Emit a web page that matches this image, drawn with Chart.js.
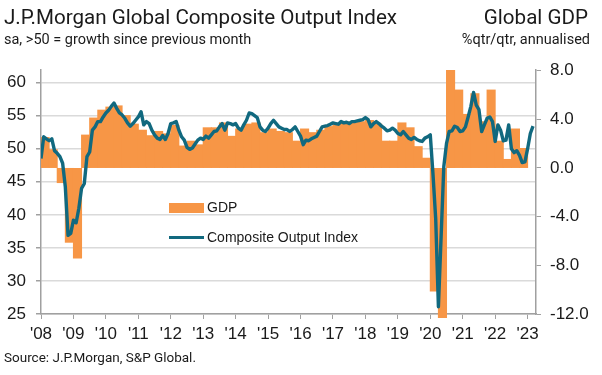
<!DOCTYPE html>
<html>
<head>
<meta charset="utf-8">
<script src="https://cdn.jsdelivr.net/npm/chart.js@4.4.1/dist/chart.umd.min.js"></script>
<style>
    html, body { margin: 0; padding: 0; background: #fff; }
    #wrap { width: 602px; height: 375px; }
</style>
</head>
<body>
<div id="wrap"><canvas id="chart" width="602" height="375"></canvas></div>
<script>
// Year tick labels (one per January, months counted from Jan 2008)
const yearLabels = ["'08", "'09", "'10", "'11", "'12", "'13", "'14", "'15", "'16", "'17", "'18", "'19", "'20", "'21", "'22", "'23"];
const pmiTicks = [25, 30, 35, 40, 45, 50, 55, 60];
const gdpTicks = [-12, -8, -4, 0, 4, 8];

// Global GDP, %q/q saar, Q1 2008 .. Q4 2022
const gdpQuarterly = [
    2.5, 1.5, -1.2, -6.1,
    -7.4, 2.7, 4.1, 4.75,
    5.0, 5.1, 4.3, 3.6,
    3.1, 2.65, 3.0, 2.8,
    3.5, 1.8, 2.2, 1.9,
    3.3, 3.3, 3.7, 2.6,
    3.2, 3.6, 3.7, 2.9,
    3.2, 3.0, 2.9, 2.2,
    3.2, 2.9, 3.1, 3.4,
    3.6, 3.8, 3.7, 3.8,
    3.9, 3.6, 2.2, 2.2,
    3.7, 3.3, 1.75, 0.8,
    -10.1, -12.3, 8.0, 6.4,
    4.4, 6.1, 3.8, 6.4,
    2.2, 0.7, 3.2, 1.6
];

// J.P.Morgan Global Composite Output Index, monthly Jan 2008 .. Mar 2023
const compositePmi = [
    48.5, 51.8, 51.5, 51.2, 51.5, 49.7, 49.3, 48.8, 47.8, 44.2, 36.9, 37.2,
    39.2, 38.8, 41.0, 44.0, 44.7, 48.8, 49.5, 52.8, 53.3, 54.1, 54.1, 54.8,
    55.4, 55.8, 56.4, 56.9, 56.1, 55.4, 55.1, 54.6, 53.9, 53.4, 53.8, 54.3,
    54.8, 55.6, 53.6, 54.1, 53.8, 52.8, 52.1, 51.6, 51.4, 52.0, 51.4, 52.3,
    53.8, 53.9, 54.1, 52.8, 51.8, 51.3, 50.2, 49.9, 50.1, 50.7, 51.3, 51.6,
    51.4, 51.9, 51.6, 52.1, 52.6, 52.7, 53.3, 53.8, 52.8, 53.9, 53.8, 53.6,
    53.8, 53.1, 52.8, 53.6, 54.3, 55.4, 55.3, 55.0, 54.7, 53.3, 52.8, 52.6,
    53.1, 53.8, 54.3, 53.8, 53.3, 53.1, 52.9, 52.9, 52.6, 52.9, 53.3, 52.6,
    51.9, 50.6, 51.3, 51.2, 51.5, 51.7, 51.9, 52.6, 53.3, 53.4, 53.5, 53.7,
    53.9, 53.8, 53.7, 54.1, 53.9, 54.0, 53.8, 54.1, 54.1, 54.2, 54.3, 54.4,
    54.7, 54.4, 53.3, 53.8, 54.1, 53.8, 53.4, 53.1, 52.7, 52.8, 53.1, 52.8,
    52.3, 52.1, 52.6, 52.1, 51.6, 51.4, 51.7, 51.4, 51.2, 51.1, 51.6, 51.8,
    52.1, 46.1, 39.4, 26.1, 36.7, 47.3, 50.8, 52.6, 52.7, 53.4, 53.2, 52.6,
    52.7, 53.3, 54.8, 56.4, 58.5, 56.6, 55.9, 52.6, 53.6, 54.6, 54.8, 54.1,
    51.1, 53.6, 52.8, 51.2, 51.3, 53.6, 50.0, 49.4, 49.7, 49.0, 47.9, 48.0,
    50.0, 52.3, 53.4
];

const ORANGE = '#f79646';
const TEAL = '#11697f';
const AXIS_GREY = '#a0a0a0';
const GRID_GREY = '#dadada';
const TEXT = '#1a1a1a';

document.addEventListener('DOMContentLoaded', () => {
    const gdpPoints = gdpQuarterly.map((v, i) => ({ x: i * 3 + 1.5, y: v }));
    const pmiPoints = compositePmi.map((v, i) => ({ x: i, y: v }));

    // Headings, source line and in-plot legend
    const chartText = {
        id: 'chartText',
        afterDraw(chart) {
            const ctx = chart.ctx;
            ctx.save();
            ctx.fillStyle = TEXT;
            ctx.textBaseline = 'alphabetic';

            ctx.font = '20.6px Roboto';
            ctx.textAlign = 'left';
            ctx.fillText('J.P.Morgan Global Composite Output Index', 4, 24);
            ctx.textAlign = 'right';
            ctx.fillText('Global GDP', 588, 24);

            ctx.font = '14.5px Roboto';
            ctx.textAlign = 'left';
            ctx.fillText('sa, >50 = growth since previous month', 4, 44);
            ctx.textAlign = 'right';
            ctx.fillText('%qtr/qtr, annualised', 590, 44);

            ctx.font = '13.5px Roboto';
            ctx.textAlign = 'left';
            ctx.fillText('Source: J.P.Morgan, S&P Global.', 4, 362);

            // legend
            ctx.fillStyle = ORANGE;
            ctx.fillRect(169, 203, 35, 10);
            ctx.strokeStyle = TEAL;
            ctx.lineWidth = 3;
            ctx.beginPath();
            ctx.moveTo(169, 237.5);
            ctx.lineTo(204, 237.5);
            ctx.stroke();
            ctx.fillStyle = TEXT;
            ctx.font = '14px "Liberation Sans"';
            ctx.textAlign = 'left';
            ctx.textBaseline = 'middle';
            ctx.fillText('GDP', 207, 208.5);
            ctx.fillText('Composite Output Index', 207, 238);
            ctx.restore();
        }
    };

    const tickFont = { family: '"Liberation Sans", Arial, sans-serif', size: 17 };

    new Chart(document.getElementById('chart').getContext('2d'), {
        data: {
            datasets: [
                {
                    type: 'line',
                    label: 'Composite Output Index',
                    data: pmiPoints,
                    yAxisID: 'y',
                    borderColor: TEAL,
                    borderWidth: 3.4,
                    pointRadius: 0,
                    tension: 0,
                    borderJoinStyle: 'round',
                    order: 0
                },
                {
                    type: 'bar',
                    label: 'GDP',
                    data: gdpPoints,
                    yAxisID: 'y1',
                    backgroundColor: ORANGE,
                    borderWidth: 0,
                    barPercentage: 1,
                    categoryPercentage: 1,
                    inflateAmount: 0.5,
                    clip: { left: 0, top: 0, right: 0, bottom: 4 },
                    order: 1
                }
            ]
        },
        options: {
            responsive: false,
            animation: false,
            layout: { padding: { top: 70, left: 0, right: 0, bottom: 0 } },
            plugins: {
                legend: { display: false },
                tooltip: { enabled: false }
            },
            scales: {
                x: {
                    type: 'linear',
                    offset: false,
                    min: 0,
                    max: 183.1,
                    afterBuildTicks: axis => { axis.ticks = yearLabels.map((_, i) => ({ value: i * 12 })); },
                    afterFit: axis => { axis.height = 61; },
                    ticks: {
                        color: TEXT,
                        font: tickFont,
                        padding: 5,
                        maxRotation: 0,
                        autoSkip: false,
                        callback: value => yearLabels[Math.round(value / 12)]
                    },
                    grid: { offset: false, drawOnChartArea: false, tickLength: 5, color: AXIS_GREY },
                    border: { color: AXIS_GREY, width: 1.5 }
                },
                y: {
                    position: 'left',
                    min: 25,
                    max: 61.9,
                    afterBuildTicks: axis => { axis.ticks = pmiTicks.map(v => ({ value: v })); },
                    afterFit: axis => { axis.width = 41; },
                    ticks: { color: TEXT, font: tickFont, padding: 10 },
                    grid: { color: GRID_GREY, lineWidth: 1.5, tickLength: 5, tickColor: AXIS_GREY },
                    border: { color: AXIS_GREY, width: 1.5 }
                },
                y1: {
                    position: 'right',
                    min: -12,
                    max: 8.05,
                    afterBuildTicks: axis => { axis.ticks = gdpTicks.map(v => ({ value: v })); },
                    afterFit: axis => { axis.width = 66; },
                    ticks: { color: TEXT, font: tickFont, padding: 9, callback: v => v.toFixed(1) },
                    grid: { drawOnChartArea: false, tickLength: 5, color: AXIS_GREY },
                    border: { color: AXIS_GREY, width: 1.5 }
                }
            }
        },
        plugins: [chartText]
    });
});
</script>
</body>
</html>
